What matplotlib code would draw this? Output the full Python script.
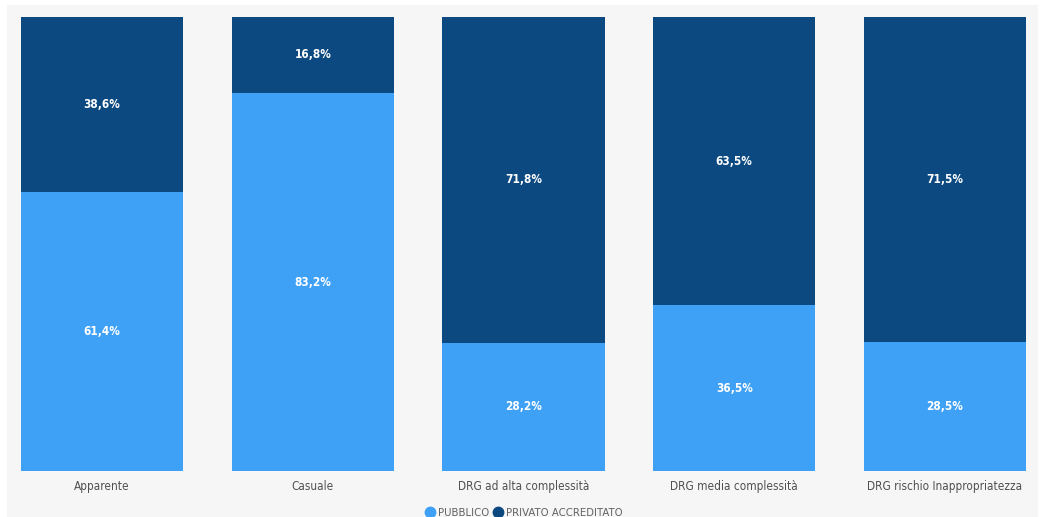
import matplotlib
matplotlib.use("Agg")
import matplotlib.pyplot as plt
from matplotlib.lines import Line2D

categories = ["Apparente", "Casuale", "DRG ad alta complessità",
              "DRG media complessità", "DRG rischio Inappropriatezza"]
pubblico = [61.4, 83.2, 28.2, 36.5, 28.5]
privato = [38.6, 16.8, 71.8, 63.5, 71.5]
series_names = ["PUBBLICO", "PRIVATO ACCREDITATO"]

light = "#3fa1f6"
dark = "#0b4980"
panel = "#f6f6f6"

fig = plt.figure(figsize=(10.47, 5.17), dpi=100)
fig.patch.set_facecolor("white")

W, H = 1047, 517
left, right, top, bottom = 7, 1038, 5, 517
ax = fig.add_axes([left / W, 1 - bottom / H, (right - left) / W, (bottom - top) / H])
ax.set_facecolor(panel)
for s in ax.spines.values():
    s.set_visible(False)
ax.set_xticks([])
ax.set_yticks([])

x = list(range(len(categories)))
width = 0.77
ax.bar(x, pubblico, width=width, color=light, zorder=2)
ax.bar(x, privato, width=width, bottom=pubblico, color=dark, zorder=2)

ax.set_xlim(-0.451, 4.441)
ax.set_ylim(-10.13, 102.6)

lbl_font = dict(family="DejaVu Sans", fontstretch="condensed")
for i, (p, q) in enumerate(zip(pubblico, privato)):
    ax.text(i, p / 2, f"{p:.1f}%".replace(".", ","), ha="center", va="center",
            color="white", fontsize=8.5, fontweight="bold", zorder=3, **lbl_font)
    ax.text(i, p + q / 2, f"{q:.1f}%".replace(".", ","), ha="center", va="center",
            color="white", fontsize=8.5, fontweight="bold", zorder=3, **lbl_font)
    ax.text(i, -3.5, categories[i], ha="center", va="center",
            color="#505050", fontsize=8.5, **lbl_font)

# legend along the bottom edge
handles = [Line2D([0], [0], marker="o", linestyle="none", markersize=7.5,
                  markerfacecolor=c, markeredgecolor=c) for c in (light, dark)]
leg = ax.legend(handles, series_names, loc="center", ncol=2, frameon=False,
                fontsize=7.3, handletextpad=0.25, columnspacing=0.5,
                labelcolor="#606060", handlelength=0.9,
                bbox_to_anchor=((524 - left) / (right - left), (517 - 512.5) / (bottom - top)),
                bbox_transform=ax.transAxes)

fig.savefig("out.png", dpi=100, facecolor=fig.get_facecolor())
